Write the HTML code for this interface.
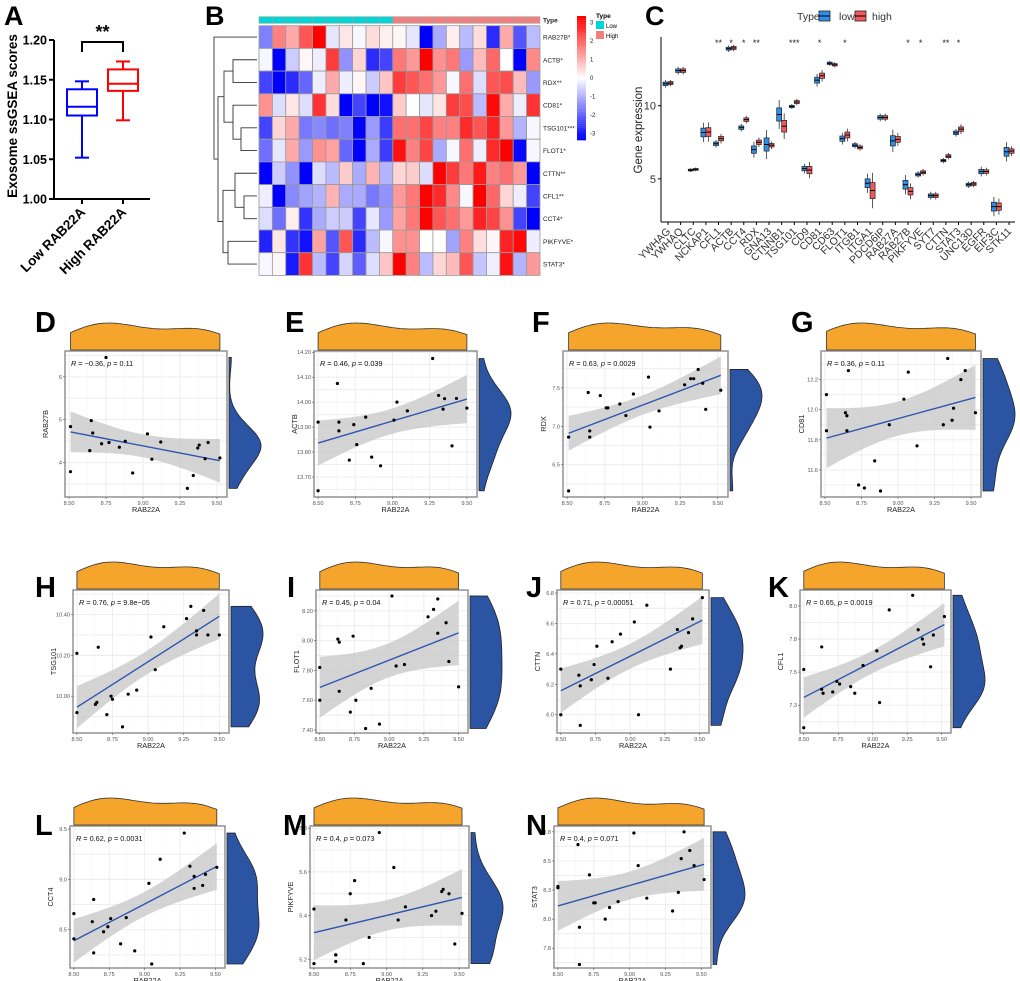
<!DOCTYPE html>
<html><head><meta charset="utf-8">
<style>
html,body{margin:0;padding:0;background:#fff;}
svg{display:block;font-family:"Liberation Sans",Arial,sans-serif;}
</style></head>
<body>
<svg id="fig" width="1020" height="981" viewBox="0 0 1020 981" xmlns="http://www.w3.org/2000/svg"></svg>
<script>
// ---------- Panel A data ----------
const aGroups = ["Low RAB22A","High RAB22A"];
const aMin = [1.052,1.099];
const aQ1 = [1.105,1.136];
const aMed = [1.116,1.145];
const aQ3 = [1.138,1.163];
const aMax = [1.148,1.173];
const aTicks = [1.00,1.05,1.10,1.15,1.20];

// ---------- Panel B data ----------
const hmGenes = ["RAB27B*","ACTB*","RDX**","CD81*","TSG101***","FLOT1*","CTTN**","CFL1**","CCT4*","PIKFYVE*","STAT3*"];
const hmTypes = ["L","L","L","L","L","L","L","L","L","L","H","H","H","H","H","H","H","H","H","H","H"];
const hmRAB27B = [-1.5,1.5,1,2,3,-0.3,0.3,-0.1,0.4,0.2,0.1,-0.3,-3,-1,0.2,-0.8,0.4,-2.5,1,-2,-0.8];
const hmACTB = [-0.1,-3,-0.6,0.1,-0.2,2.3,-1.3,0.5,-2.5,-2.2,1.6,1.2,3,1.3,1.6,-1.2,0.8,1.8,0.0,-3,1.4];
const hmRDX = [-2.2,-3,-2.5,-1.8,-0.2,1,-0.2,0.1,-0.6,0.7,2.3,2,1.7,1.2,-0.1,1.7,-0.4,2,2.1,0.8,-1.2];
const hmCD81 = [1.3,-0.4,0.3,-0.4,2.4,0.4,-3,-2.2,-3,-2.8,0.6,0,-0.3,0.3,2.3,2.1,-0.8,2.9,1,-0.2,2.4];
const hmTSG101 = [-2.2,0.5,1,-1.6,-1.4,-1.7,-1.5,-3,-1.2,-2.3,1.7,1.7,2.2,1.5,1.5,2.5,2,2.6,1.2,-0.9,-0.1];
const hmFLOT1 = [-1.7,-0.3,1,-1.2,1.3,1.1,-1.8,-3,-1,-2.3,2.8,1.5,2.2,-1,-0.1,1.7,-0.2,2.5,3,-2.9,-0.1];
const hmCTTN = [-3,-0.6,-1.3,-3,-0.4,-0.8,0.6,-1,0.9,-0.9,0.5,0.6,-0.4,3,2.3,1.6,2.7,1.5,1.7,1.2,-3];
const hmCFL1 = [-0.2,-3,-1.4,-1.1,-0.9,0.9,-1,-1,-1.6,-1.3,1.2,1.6,3,2.5,1.4,-0.1,3,1.8,0.5,-0.2,-2.2];
const hmCCT4 = [-0.4,-1.7,0.2,-2.4,-1,-0.6,-0.6,-2.2,-0.3,-1.2,1.1,1.6,3,2,1.7,1.2,2.6,2.2,1.3,-2.2,-3];
const hmPIKFYVE = [-2.6,0.3,-2.4,-2.8,1.1,-2,2,-2.5,-0.8,-0.1,1.3,1.3,0,0,-1.1,1.5,0.4,0.1,2.6,2.9,-0.2];
const hmSTAT3 = [-0.1,0.1,-2.7,2.4,-0.8,-2.2,-0.5,-1.9,-0.4,0.7,3,1.5,-0.8,0.5,0.8,2,-0.7,-0.2,2.8,-0.9,1.2];
const hmScaleTicks = [3,2,1,0,-1,-2,-3];

// ---------- Panel C data ----------
const cGenes = ["YWHAG","YWHAQ","CLTC","NCKAP1","CFL1","ACTB","CCT4","RDX","GNA13","CTNNB1","TSG101","CD9","CD81","CD63","FLOT1","ITGB1","ITGA1","PDCD6IP","RAB27A","RAB27B","PIKFYVE","SYT7","CTTN","STAT3","UNC13D","EGFR","EIF3C","STK11"];
const cLowMed = [11.5,12.4,5.6,8.17,7.4,13.9,8.5,7.0,7.35,9.4,9.95,5.7,11.75,12.9,7.75,7.3,4.7,9.2,7.6,4.6,5.3,3.85,6.25,8.15,4.6,5.5,3.1,6.85];
const cHighMed = [11.55,12.4,5.65,8.2,7.75,13.95,9.05,7.5,7.3,8.6,10.25,5.6,12.05,12.8,8.0,7.15,4.2,9.2,7.7,4.15,5.45,3.85,6.55,8.4,4.65,5.5,3.1,6.9];
const cLowIqr = [0.12,0.12,0.06,0.3,0.12,0.1,0.12,0.25,0.45,0.45,0.08,0.15,0.2,0.08,0.18,0.1,0.3,0.12,0.35,0.3,0.1,0.12,0.08,0.12,0.1,0.15,0.3,0.3];
const cHighIqr = [0.1,0.12,0.06,0.3,0.15,0.1,0.12,0.15,0.12,0.4,0.1,0.25,0.18,0.08,0.2,0.1,0.55,0.12,0.2,0.25,0.1,0.12,0.1,0.15,0.1,0.12,0.25,0.15];
const cStars = ["","","","","**","*","*","**","","","***","","*","","*","","","","","*","*","","**","*","","","",""];
const cTicks = [5,10];

// ---------- Scatter data (x = RAB22A) ----------
const dX=[8.51,8.51,8.65,8.66,8.64,8.72,8.75,8.77,8.84,8.88,8.93,9.03,9.06,9.12,9.30,9.34,9.37,9.38,9.42,9.44,9.52];
const dY=[4.84,3.79,4.98,4.69,4.28,4.44,6.45,4.47,4.36,4.5,3.76,4.67,4.08,4.48,3.4,3.7,4.34,4.41,4.09,4.47,4.11];
const eX=[8.5,8.5,8.63,8.64,8.64,8.71,8.74,8.76,8.82,8.86,8.92,9.01,9.03,9.1,9.27,9.31,9.35,9.34,9.4,9.43,9.5];
const eY=[13.92,13.645,14.075,13.92,13.885,13.768,13.91,13.83,13.94,13.78,13.745,13.928,14.0,13.965,14.175,14.027,14.014,13.972,13.825,14.015,13.976];
const fX=[8.51,8.51,8.64,8.65,8.65,8.72,8.76,8.77,8.85,8.89,8.94,9.04,9.05,9.11,9.28,9.32,9.34,9.37,9.40,9.42,9.52];
const fY=[6.86,6.16,7.44,6.94,6.86,7.40,7.24,7.24,7.29,7.14,7.42,7.64,6.99,7.2,7.54,7.62,7.62,7.74,7.56,7.22,7.47];
const gX=[8.51,8.51,8.64,8.65,8.65,8.66,8.73,8.77,8.84,8.88,8.94,9.04,9.07,9.13,9.31,9.34,9.37,9.38,9.43,9.46,9.53];
const gY=[12.1,11.86,11.98,11.96,11.86,12.26,11.5,11.48,11.66,11.46,11.9,12.07,12.25,11.76,11.9,12.34,11.93,12.01,12.2,12.26,11.98];
const hX=[8.5,8.5,8.63,8.64,8.65,8.71,8.74,8.75,8.82,8.86,8.92,9.02,9.05,9.11,9.27,9.3,9.34,9.34,9.39,9.42,9.5];
const hY=[10.21,9.92,9.96,9.97,10.24,9.91,10.0,9.985,9.85,10.01,10.03,10.29,10.13,10.34,10.38,10.44,10.32,10.3,10.42,10.3,10.3];
const iX=[8.5,8.5,8.63,8.64,8.64,8.72,8.74,8.76,8.83,8.87,8.93,9.02,9.05,9.11,9.28,9.32,9.35,9.35,9.41,9.43,9.5];
const iY=[7.82,7.6,8.01,7.99,7.66,7.52,8.03,7.6,7.41,7.68,7.44,8.3,7.83,7.84,8.16,8.21,8.28,8.05,8.12,7.86,7.69];
const jX=[8.5,8.5,8.63,8.64,8.64,8.72,8.74,8.76,8.84,8.87,8.93,9.03,9.06,9.12,9.29,9.34,9.36,9.37,9.42,9.45,9.52];
const jY=[6.3,6.0,6.26,6.19,5.93,6.23,6.33,6.45,6.24,6.48,6.53,6.61,6.0,6.72,6.3,6.56,6.44,6.45,6.54,6.63,6.77];
const kX=[8.5,8.5,8.63,8.64,8.63,8.71,8.74,8.76,8.84,8.87,8.93,9.03,9.05,9.12,9.29,9.33,9.36,9.37,9.42,9.44,9.52];
const kY=[7.52,7.08,7.37,7.34,7.69,7.35,7.43,7.41,7.39,7.34,7.55,7.66,7.27,7.97,8.08,7.82,7.75,7.71,7.54,7.78,7.92];
const lX=[8.5,8.5,8.63,8.64,8.64,8.71,8.74,8.76,8.83,8.87,8.93,9.03,9.05,9.11,9.28,9.32,9.35,9.35,9.41,9.43,9.51];
const lY=[8.66,8.41,8.58,8.8,8.27,8.48,8.53,8.61,8.36,8.62,8.29,8.96,8.16,9.2,9.46,9.13,9.03,8.91,8.94,9.05,9.12];
const mX=[8.5,8.5,8.65,8.65,8.65,8.72,8.75,8.78,8.84,8.88,8.95,9.05,9.08,9.13,9.31,9.34,9.38,9.39,9.43,9.47,9.52];
const mY=[5.43,5.18,5.22,5.19,5.22,5.38,5.5,5.56,5.18,5.3,5.78,5.62,5.38,5.44,5.4,5.42,5.51,5.52,5.5,5.27,5.41];
const nX=[8.5,8.5,8.64,8.65,8.65,8.72,8.75,8.76,8.83,8.86,8.92,9.03,9.06,9.12,9.3,9.34,9.36,9.38,9.42,9.45,9.52];
const nY=[8.28,8.27,8.64,7.93,7.61,8.38,8.14,8.14,8.0,8.1,8.15,8.74,8.46,8.18,8.07,8.23,8.52,8.75,8.59,8.46,8.34];
const xTicks=[8.5,8.75,9.0,9.25,9.5];
const xTickLabels=["8.50","8.75","9.00","9.25","9.50"];

// ---------- helpers ----------
const NS="http://www.w3.org/2000/svg";
const svg=document.getElementById('fig');
function mk(tag,attrs,parent,text){const e=document.createElementNS(NS,tag);for(const k in attrs)e.setAttribute(k,attrs[k]);if(text!==undefined)e.textContent=text;(parent||svg).appendChild(e);return e;}
function grp(name,parent){const g=mk('g',{},parent);return g;}
function letter(ch,x,y,size){const t=mk('text',{x:x,y:y,'font-size':size||27,'font-weight':'bold',fill:'#000'},svg,ch);}

// ---------- Panel A ----------
(function(){
 const g=grp('panel-a-boxplot');
 const ax=54, y0=199, y1=40, vmin=1.0, vmax=1.2;
 const Y=v=>y0-(v-vmin)/(vmax-vmin)*(y0-y1);
 const cx=[82,123], cols=['#0000ff','#ff0000'];
 mk('line',{x1:ax,y1:Y(1.2),x2:ax,y2:y0,stroke:'#000','stroke-width':2},g);
 mk('line',{x1:ax,y1:y0,x2:150,y2:y0,stroke:'#000','stroke-width':2},g);
 aTicks.forEach(v=>{mk('line',{x1:ax-5,y1:Y(v),x2:ax,y2:Y(v),stroke:'#000','stroke-width':2},g);
  const t=mk('text',{x:ax-7,y:Y(v)+4.5,'text-anchor':'end','font-size':12.5,'font-weight':'bold'},g,v.toFixed(2));
  });
 const yt=mk('text',{x:17,y:116,'font-size':13.5,'font-weight':'bold','text-anchor':'middle',transform:'rotate(-90 17 116)'},g,'Exosome ssGSEA scores');
 
 aGroups.forEach((n,i)=>{
  const c=cx[i],w=15;
  mk('line',{x1:c,y1:y0,x2:c,y2:y0+5,stroke:'#000','stroke-width':2},g);
  const bx=grp('box-'+(i?'high':'low'),g);
  mk('line',{x1:c,y1:Y(aMin[i]),x2:c,y2:Y(aQ1[i]),stroke:cols[i],'stroke-width':2},bx);
  mk('line',{x1:c,y1:Y(aQ3[i]),x2:c,y2:Y(aMax[i]),stroke:cols[i],'stroke-width':2},bx);
  mk('line',{x1:c-7,y1:Y(aMin[i]),x2:c+7,y2:Y(aMin[i]),stroke:cols[i],'stroke-width':2},bx);
  mk('line',{x1:c-7,y1:Y(aMax[i]),x2:c+7,y2:Y(aMax[i]),stroke:cols[i],'stroke-width':2},bx);
  mk('rect',{x:c-w,y:Y(aQ3[i]),width:2*w,height:Y(aQ1[i])-Y(aQ3[i]),fill:'none',stroke:cols[i],'stroke-width':2},bx);
  mk('line',{x1:c-w,y1:Y(aMed[i]),x2:c+w,y2:Y(aMed[i]),stroke:cols[i],'stroke-width':2},bx);
  const t=mk('text',{x:c+4,y:y0+14,'text-anchor':'end','font-size':13.5,'font-weight':'bold',transform:`rotate(-45 ${c+4} ${y0+14})`},g,n);
  
 });
 mk('path',{d:`M${cx[0]} 52 V42 H${cx[1]} V52`,fill:'none',stroke:'#000','stroke-width':2},g);
 mk('text',{x:(cx[0]+cx[1])/2,y:38,'text-anchor':'middle','font-size':18,'font-weight':'bold'},g,'**');
})();
letter('A',4,25,27);

// ---------- Panel B ----------
(function(){
 const g=grp('panel-b-heatmap');
 const rows=[hmRAB27B,hmACTB,hmRDX,hmCD81,hmTSG101,hmFLOT1,hmCTTN,hmCFL1,hmCCT4,hmPIKFYVE,hmSTAT3];
 const L=259,T=25.7,cw=13.38,ch=22.7;
 function col(v){v=Math.max(-3,Math.min(3,v));const t=Math.abs(v)/3;const k=Math.round(255*(1-t));return v>=0?`rgb(255,${k},${k})`:`rgb(${k},${k},255)`;}
 hmTypes.forEach((t,j)=>{const r=mk('rect',{x:L+j*cw,y:16.7,width:cw,height:6.6,fill:t==='L'?'#00D6D6':'#F08080',stroke:'#a0a0a0','stroke-width':0.6},g);
  });
 mk('text',{x:543,y:22.5,'font-size':6.5,'font-weight':'bold',fill:'#222'},g,'Type');
 rows.forEach((row,i)=>{row.forEach((v,j)=>{const r=mk('rect',{x:L+j*cw,y:T+i*ch,width:cw,height:ch,fill:col(v),stroke:'#999','stroke-width':0.8},g);
   });
  const t=mk('text',{x:543,y:T+i*ch+ch/2+2.5,'font-size':6.5,fill:'#222'},g,hmGenes[i]);
  });
 const yc=i=>T+ch*(i+0.5);
 function join(a,b,x){const ya=typeof a==='number'?{y:yc(a),x:257}:a, yb=typeof b==='number'?{y:yc(b),x:257}:b;
  mk('path',{d:`M${ya.x} ${ya.y} H${x} V${yb.y} H${yb.x}`,fill:'none',stroke:'#333','stroke-width':0.9},g);return {x:x,y:(ya.y+yb.y)/2};}
 const n1=join(1,2,233),n2=join(4,5,241),n3=join(3,n2,233),n4=join(n1,n3,224);
 const n5=join(7,8,244),n6=join(6,n5,235),n7=join(9,10,228),n8=join(n6,n7,223);
 const n9=join(n4,n8,218),root=join(0,n9,214);
 const cb=grp('color-scale-legend',g);
 for(let k=0;k<60;k++){const v=3-6*k/59;mk('rect',{x:577,y:16+k*2.07,width:9,height:2.2,fill:col(v)},cb);}
 hmScaleTicks.forEach(v=>{mk('text',{x:590,y:78-v*18.5+2,'font-size':6,fill:'#222'},cb,String(v));});
 const tl=grp('type-legend',g);
 mk('text',{x:596,y:18,'font-size':6.5,'font-weight':'bold'},tl,'Type');
 mk('rect',{x:596,y:21,width:8,height:8,fill:'#00D6D6'},tl);mk('text',{x:606,y:28,'font-size':6},tl,'Low');
 mk('rect',{x:596,y:31,width:8,height:8,fill:'#F08080'},tl);mk('text',{x:606,y:38,'font-size':6},tl,'High');
})();
letter('B',205,25,27);

// ---------- Panel C ----------
(function(){
 const g=grp('panel-c-boxplot');
 const L=661,T=37,B=222,R=1015,vmin=2.05,vmax=14.7;
 const Y=v=>B-(v-vmin)/(vmax-vmin)*(B-T);
 const X=i=>668+i*12.18*28/27;
 mk('line',{x1:L,y1:T,x2:L,y2:B,stroke:'#000','stroke-width':1},g);
 mk('line',{x1:L,y1:B,x2:R,y2:B,stroke:'#000','stroke-width':1},g);
 cTicks.forEach(v=>{mk('line',{x1:L-3,y1:Y(v),x2:L,y2:Y(v),stroke:'#000'},g);
  mk('text',{x:L-5,y:Y(v)+4,'text-anchor':'end','font-size':11,fill:'#333'},g,String(v));});
 const yt=mk('text',{x:642,y:130,'font-size':11.5,'text-anchor':'middle',fill:'#222',transform:'rotate(-90 642 130)'},g,'Gene expression');
 
 cGenes.forEach((n,i)=>{
  const c=X(i);
  mk('line',{x1:c,y1:B,x2:c,y2:B+3,stroke:'#000'},g);
  const t=mk('text',{x:c+3,y:B+10,'text-anchor':'end','font-size':10.5,fill:'#333',transform:`rotate(-45 ${c+3} ${B+10})`},g,n);
  
  [[cLowMed[i],cLowIqr[i],'#2F8FE8',-5],[cHighMed[i],cHighIqr[i],'#F05A5A',0]].forEach(([m,q,colr,off],k)=>{
   const b=grp(n.toLowerCase()+(k?'-high-box':'-low-box'),g);
   mk('line',{x1:c+off+2.5,y1:Y(m+q*2.2),x2:c+off+2.5,y2:Y(m-q*2.2),stroke:'#333','stroke-width':0.8},b);
   mk('rect',{x:c+off,y:Y(m+q),width:5,height:Math.max(1.5,Y(m-q)-Y(m+q)),fill:colr,stroke:'#222','stroke-width':0.7},b);
   mk('line',{x1:c+off,y1:Y(m),x2:c+off+5,y2:Y(m),stroke:'#000','stroke-width':1},b);
  });
  if(cStars[i]){mk('text',{x:c,y:46,'text-anchor':'middle','font-size':9,fill:'#222'},g,cStars[i]);}
 });
 const lg=grp('legend',g);
 mk('text',{x:797,y:20,'font-size':10.5,fill:'#333'},lg,'Type');
 mk('rect',{x:819,y:11,width:11,height:10,fill:'#2F8FE8',stroke:'#222','stroke-width':0.8},lg);
 mk('line',{x1:819,y1:16,x2:830,y2:16,stroke:'#000'},lg);
 mk('text',{x:839,y:20,'font-size':10.5,fill:'#333'},lg,'low');
 mk('rect',{x:855,y:11,width:11,height:10,fill:'#F05A5A',stroke:'#222','stroke-width':0.8},lg);
 mk('line',{x1:855,y1:16,x2:866,y2:16,stroke:'#000'},lg);
 mk('text',{x:872,y:20,'font-size':10.5,fill:'#333'},lg,'high');
})();
letter('C',645,25,27);

// ---------- Scatter panels ----------
function kde(vals,lo,hi,n){const m=vals.reduce((a,b)=>a+b,0)/vals.length;const sd=Math.sqrt(vals.reduce((a,b)=>a+(b-m)*(b-m),0)/(vals.length-1));
 const bw=1.06*sd*Math.pow(vals.length,-0.2);const out=[];for(let k=0;k<=n;k++){const x=lo+(hi-lo)*k/n;let s=0;vals.forEach(v=>{const z=(x-v)/bw;s+=Math.exp(-0.5*z*z);});out.push([x,s]);}return out;}
function scatter(name,L,T,W,H,ymin,ymax,yt,ylab,stat,xs,ys){
 const g=grp('panel-'+name+'-scatter');
 const X=v=>L+0.025*W+(v-8.5)*0.913*W;
 const Y=v=>T+H-(v-ymin)/(ymax-ymin)*H;
 mk('rect',{x:L,y:T,width:W,height:H,fill:'#fff'},g);
 const step=yt[1]-yt[0];
 const gx=[];for(let v=8.375;v<=9.6;v+=0.125)gx.push(v);
 gx.forEach((v,k)=>{const px=X(v);if(px>L&&px<L+W)mk('line',{x1:px,y1:T,x2:px,y2:T+H,stroke:k%2?'#ececec':'#f4f4f4','stroke-width':k%2?0.9:0.5},g);});
 for(let v=yt[0]-step;v<=ymax+step;v+=step/2){const py=Y(v);if(py>T&&py<T+H)mk('line',{x1:L,y1:py,x2:L+W,y2:py,stroke:'#ececec','stroke-width':0.9},g);}
 const n=xs.length,mx=xs.reduce((a,b)=>a+b,0)/n,my=ys.reduce((a,b)=>a+b,0)/n;
 let sxx=0,sxy=0;xs.forEach((x,i)=>{sxx+=(x-mx)**2;sxy+=(x-mx)*(ys[i]-my);});
 const b=sxy/sxx,a=my-b*mx;let sse=0;xs.forEach((x,i)=>{sse+=(ys[i]-a-b*x)**2;});const s=Math.sqrt(sse/(n-2));
 const x0=Math.min(...xs),x1=Math.max(...xs);const up=[],dn=[];
 for(let k=0;k<=40;k++){const x=x0+(x1-x0)*k/40;const f=a+b*x;const se=s*Math.sqrt(1/n+(x-mx)**2/sxx)*2.09;
  up.push(X(x).toFixed(1)+','+Math.max(T,Y(f+se)).toFixed(1));dn.unshift(X(x).toFixed(1)+','+Math.min(T+H,Y(f-se)).toFixed(1));}
 const band=mk('polygon',{points:up.concat(dn).join(' '),fill:'#c9c9c9','fill-opacity':0.8},g);
 
 const ln=mk('line',{x1:X(x0),y1:Y(a+b*x0),x2:X(x1),y2:Y(a+b*x1),stroke:'#2e56b0','stroke-width':1.4},g);
 
 xs.forEach((x,i)=>{const p=mk('circle',{cx:X(x),cy:Y(ys[i]),r:1.6,fill:'#000'},g);
  });
 mk('rect',{x:L,y:T,width:W,height:H,fill:'none',stroke:'#8a8a8a','stroke-width':1.4},g);
 const st=mk('text',{x:L+6,y:T+15,'font-size':7.3,fill:'#111'},g);
 st.innerHTML=stat;
 xTicks.forEach((v,k)=>{mk('line',{x1:X(v),y1:T+H,x2:X(v),y2:T+H+2,stroke:'#555','stroke-width':0.6},g);
  mk('text',{x:X(v),y:T+H+8,'text-anchor':'middle','font-size':5.6,fill:'#555'},g,xTickLabels[k]);});
 yt.forEach(v=>{mk('line',{x1:L-2,y1:Y(v),x2:L,y2:Y(v),stroke:'#555','stroke-width':0.6},g);
  mk('text',{x:L-3,y:Y(v)+2,'text-anchor':'end','font-size':5.6,fill:'#555'},g,step<0.2?v.toFixed(2):(step<1?v.toFixed(1):String(v)));});
 const xt=mk('text',{x:L+W/2,y:T+H+15,'text-anchor':'middle','font-size':7.3,fill:'#222'},g,'RAB22A');
 
 const yx=L-17;const ytt=mk('text',{x:yx,y:T+H/2,'text-anchor':'middle','font-size':7.3,fill:'#222',transform:`rotate(-90 ${yx} ${T+H/2})`},g,ylab);
 
 const kx=kde(xs,x0,x1,60);const mxk=Math.max(...kx.map(p=>p[1]));
 let d=`M${X(x0)} ${T-1}`;kx.forEach(p=>{d+=` L${X(p[0]).toFixed(1)} ${(T-1-27*p[1]/mxk).toFixed(1)}`;});d+=` L${X(x1)} ${T-1} Z`;
 const td=mk('path',{d:d,fill:'#F5A52B',stroke:'#333','stroke-width':0.8},g);
 
 const y0=Math.min(...ys),y1=Math.max(...ys);const ky=kde(ys,y0,y1,60);const mky=Math.max(...ky.map(p=>p[1]));
 const bx=L+W+2;let d2=`M${bx} ${Y(y0)}`;ky.forEach(p=>{d2+=` L${(bx+32*p[1]/mky).toFixed(1)} ${Y(p[0]).toFixed(1)}`;});d2+=` L${bx} ${Y(y1)} Z`;
 const rd=mk('path',{d:d2,fill:'#2B54A3',stroke:'#222','stroke-width':0.8},g);
 
}
const I=(r,p)=>`<tspan font-style="italic">R</tspan> = ${r}, <tspan font-style="italic">p</tspan> = ${p}`;
scatter('d',65,351,162,146,3.2,6.6,[4,5,6],'RAB27B',I('−0.36','0.11'),dX,dY);
scatter('e',314,351,163,146,13.62,14.205,[13.7,13.8,13.9,14.0,14.1,14.2],'ACTB',I('0.46','0.039'),eX,eY);
scatter('f',563,351,165,146,6.08,7.98,[6.5,7.0,7.5],'RDX',I('0.63','0.0029'),fX,fY);
scatter('g',821,351,160,146,11.42,12.39,[11.6,11.8,12.0,12.2],'CD81',I('0.36','0.11'),gX,gY);
scatter('h',73,590,156,143,9.82,10.52,[10.0,10.2,10.4],'TSG101',I('0.76','9.8e−05'),hX,hY);
scatter('i',316,590,152,143,7.38,8.34,[7.4,7.6,7.8,8.0,8.2],'FLOT1',I('0.45','0.04'),iX,iY);
scatter('j',557,590,152,143,5.88,6.82,[6.0,6.2,6.4,6.6,6.8],'CTTN',I('0.71','0.00051'),jX,jY);
scatter('k',800,590,151,143,7.04,8.12,[7.25,7.5,7.75,8.0],'CFL1',I('0.65','0.0019'),kX,kY);
scatter('l',70,826,155,142,8.12,9.53,[8.5,9.0,9.5],'CCT4',I('0.62','0.0031'),lX,lY);
scatter('m',310,826,159,142,5.16,5.81,[5.2,5.4,5.6,5.8],'PIKFYVE',I('0.4','0.073'),mX,mY);
scatter('n',554,826,157,142,7.58,8.8,[7.75,8.0,8.25,8.5,8.75],'STAT3',I('0.4','0.071'),nX,nY);
letter('D',35,332,29);letter('E',285,332,29);letter('F',532,332,29);letter('G',791,332,29);
letter('H',35,597,29);letter('I',287,597,29);letter('J',526,597,29);letter('K',768,597,29);
letter('L',35,835,29);letter('M',283,835,29);letter('N',526,835,29);
</script>
</body></html>
